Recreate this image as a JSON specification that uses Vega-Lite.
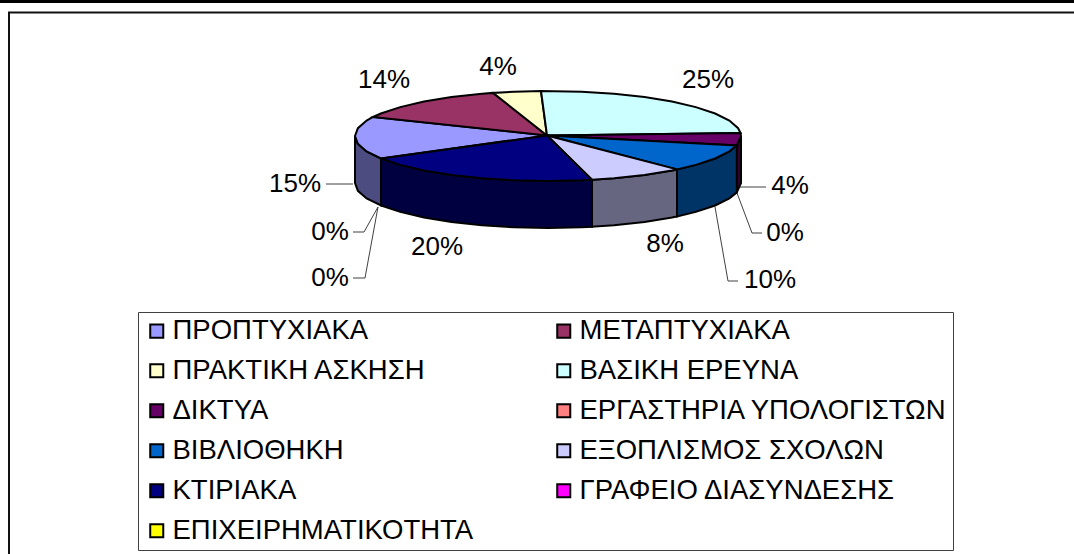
{
"$schema":"https://vega.github.io/schema/vega-lite/v6.json",
"width":1074,"height":554,"padding":0,"autosize":{"type":"none"},"background":"white",
"config":{"view":{"stroke":null},"font":"Liberation Sans"},
"projection":{"type":"identity","scale":1,"translate":[548,136]},
"resolve":{"scale":{"fill":"independent"},"legend":{"fill":"independent"}},
"layer":[
{"data":{"values":[{"name":"top rule","type":"Feature","geometry":{"type":"LineString","coordinates":[[-548,-134.5],[526,-134.5]]}}]},
 "mark":{"type":"geoshape","filled":false,"stroke":"#000000","strokeWidth":3},"encoding":{}},
{"data":{"values":[{"name":"chart frame","type":"Feature","geometry":{"type":"LineString","coordinates":[[-539,418],[-539,-123.5],[526,-123.5]]}}]},
 "mark":{"type":"geoshape","filled":false,"stroke":"#111111","strokeWidth":2},"encoding":{}},
{"data":{"values":[
 {"name":"ΔΙΚΤΥΑ","type":"Feature","geometry":{"type":"LineString","coordinates":[[192,51],[218,51]]}},
 {"name":"ΕΡΓΑΣΤΗΡΙΑ ΥΠΟΛΟΓΙΣΤΩΝ","type":"Feature","geometry":{"type":"LineString","coordinates":[[189,57],[204,97],[214,97]]}},
 {"name":"ΒΙΒΛΙΟΘΗΚΗ","type":"Feature","geometry":{"type":"LineString","coordinates":[[167,71],[180,145],[190,145]]}},
 {"name":"ΠΡΟΠΤΥΧΙΑΚΑ","type":"Feature","geometry":{"type":"LineString","coordinates":[[-222,48],[-195,48]]}},
 {"name":"ΓΡΑΦΕΙΟ ΔΙΑΣΥΝΔΕΣΗΣ","type":"Feature","geometry":{"type":"LineString","coordinates":[[-170,71],[-184,96],[-195,96]]}},
 {"name":"ΕΠΙΧΕΙΡΗΜΑΤΙΚΟΤΗΤΑ","type":"Feature","geometry":{"type":"LineString","coordinates":[[-170,71],[-183,142],[-195,142]]}}
]},
 "mark":{"type":"geoshape","filled":false,"stroke":"#404040","strokeWidth":1},"encoding":{}},
{"data":{"values":[
 {"name":"ΔΙΚΤΥΑ","type":"Feature","geometry":{"type":"Polygon","coordinates":[[[193,0],[188.8,9.4],[188.8,56.4],[193,47],[193,0]]]}},
 {"name":"ΒΙΒΛΙΟΘΗΚΗ","type":"Feature","geometry":{"type":"Polygon","coordinates":[[[188.8,9.4],[181.4,15.4],[167.1,22.5],[147.8,28.9],[129,33.4],[129,80.4],[147.8,75.9],[167.1,69.5],[181.4,62.4],[188.8,56.4],[188.8,9.4]]]}},
 {"name":"ΕΞΟΠΛΙΣΜΟΣ ΣΧΟΛΩΝ","type":"Feature","geometry":{"type":"Polygon","coordinates":[[[129,33.4],[124,34.5],[96.5,39],[66,42.3],[44,43.8],[44,90.8],[66,89.3],[96.5,86],[124,81.5],[129,80.4],[129,33.4]]]}},
 {"name":"ΚΤΙΡΙΑΚΑ","type":"Feature","geometry":{"type":"Polygon","coordinates":[[[44,43.8],[33.5,44.3],[0,45],[-33.5,44.3],[-66,42.3],[-96.5,39],[-124,34.5],[-147.8,28.9],[-167,22.5],[-167,69.5],[-147.8,75.9],[-124,81.5],[-96.5,86],[-66,89.3],[-33.5,91.3],[0,92],[33.5,91.3],[44,90.8],[44,43.8]]]}},
 {"name":"ΠΡΟΠΤΥΧΙΑΚΑ","type":"Feature","geometry":{"type":"Polygon","coordinates":[[[-167,22.5],[-181.4,15.4],[-190.1,7.8],[-193,0],[-193,47],[-190.1,54.8],[-181.4,62.4],[-167,69.5],[-167,22.5]]]}}
]},
 "mark":{"type":"geoshape","stroke":"#000000","strokeWidth":2,"opacity":1},
 "encoding":{"fill":{"field":"name","type":"nominal","legend":null,"scale":{"domain":["ΔΙΚΤΥΑ","ΒΙΒΛΙΟΘΗΚΗ","ΕΞΟΠΛΙΣΜΟΣ ΣΧΟΛΩΝ","ΚΤΙΡΙΑΚΑ","ΠΡΟΠΤΥΧΙΑΚΑ"],"range":["#330033","#003366","#666680","#000040","#4C4C80"]}}}},
{"data":{"values":[
 {"name":"ΠΡΟΠΤΥΧΙΑΚΑ","type":"Feature","geometry":{"type":"Polygon","coordinates":[[[-1,-0.5],[-167,22.5],[-181.4,15.4],[-190.1,7.8],[-193,0],[-190.1,-7.8],[-181.4,-15.4],[-175,-19],[-1,-0.5]]]}},
 {"name":"ΜΕΤΑΠΤΥΧΙΑΚΑ","type":"Feature","geometry":{"type":"Polygon","coordinates":[[[-1,-0.5],[-175,-19],[-167.1,-22.5],[-147.8,-28.9],[-124,-34.5],[-96.5,-39],[-66,-42.3],[-55,-43.1],[-1,-0.5]]]}},
 {"name":"ΠΡΑΚΤΙΚΗ ΑΣΚΗΣΗ","type":"Feature","geometry":{"type":"Polygon","coordinates":[[[-1,-0.5],[-55,-43.1],[-33.5,-44.3],[-7,-45],[-1,-0.5]]]}},
 {"name":"ΒΑΣΙΚΗ ΕΡΕΥΝΑ","type":"Feature","geometry":{"type":"Polygon","coordinates":[[[-1,-0.5],[-7,-45],[33.5,-44.3],[66,-42.3],[96.5,-39],[124,-34.5],[147.8,-28.9],[167.1,-22.5],[181.4,-15.4],[190.1,-7.8],[192.5,-3.1],[-1,-0.5]]]}},
 {"name":"ΔΙΚΤΥΑ","type":"Feature","geometry":{"type":"Polygon","coordinates":[[[-1,-0.5],[192.5,-3.1],[193,0],[188.8,9.4],[-1,-0.5]]]}},
 {"name":"ΒΙΒΛΙΟΘΗΚΗ","type":"Feature","geometry":{"type":"Polygon","coordinates":[[[-1,-0.5],[188.8,9.4],[181.4,15.4],[167.1,22.5],[147.8,28.9],[129,33.4],[-1,-0.5]]]}},
 {"name":"ΕΞΟΠΛΙΣΜΟΣ ΣΧΟΛΩΝ","type":"Feature","geometry":{"type":"Polygon","coordinates":[[[-1,-0.5],[129,33.4],[124,34.5],[96.5,39],[66,42.3],[44,43.8],[-1,-0.5]]]}},
 {"name":"ΚΤΙΡΙΑΚΑ","type":"Feature","geometry":{"type":"Polygon","coordinates":[[[-1,-0.5],[44,43.8],[33.5,44.3],[0,45],[-33.5,44.3],[-66,42.3],[-96.5,39],[-124,34.5],[-147.8,28.9],[-167,22.5],[-1,-0.5]]]}}
]},
 "mark":{"type":"geoshape","stroke":"#000000","strokeWidth":2,"opacity":1},
 "encoding":{"fill":{"field":"name","type":"nominal",
  "scale":{"domain":["ΠΡΟΠΤΥΧΙΑΚΑ","ΜΕΤΑΠΤΥΧΙΑΚΑ","ΠΡΑΚΤΙΚΗ ΑΣΚΗΣΗ","ΒΑΣΙΚΗ ΕΡΕΥΝΑ","ΔΙΚΤΥΑ","ΕΡΓΑΣΤΗΡΙΑ ΥΠΟΛΟΓΙΣΤΩΝ","ΒΙΒΛΙΟΘΗΚΗ","ΕΞΟΠΛΙΣΜΟΣ ΣΧΟΛΩΝ","ΚΤΙΡΙΑΚΑ","ΓΡΑΦΕΙΟ ΔΙΑΣΥΝΔΕΣΗΣ","ΕΠΙΧΕΙΡΗΜΑΤΙΚΟΤΗΤΑ"],
   "range":["#9999FF","#993366","#FFFFCC","#CCFFFF","#660066","#FF8080","#0066CC","#CCCCFF","#000080","#FF00FF","#FFFF00"]},
  "legend":{"title":null,"orient":"none","direction":"horizontal","legendX":138,"legendY":312,"columns":2,"symbolType":"square","symbolSize":170,"symbolStrokeColor":"#000000","symbolStrokeWidth":2,"symbolOpacity":1,"labelFont":"Liberation Sans","labelFontSize":27.5,"labelColor":"#000000","labelLimit":500,"labelOffset":2,"strokeColor":"#404040","fillColor":"#FFFFFF","padding":5,"rowPadding":11,"columnPadding":76,"symbolOffset":0}}}},
{"data":{"values":[
 {"name":"ΠΡΟΠΤΥΧΙΑΚΑ","pct":"15%","lon":-253,"lat":48},
 {"name":"ΜΕΤΑΠΤΥΧΙΑΚΑ","pct":"14%","lon":-164,"lat":-56},
 {"name":"ΠΡΑΚΤΙΚΗ ΑΣΚΗΣΗ","pct":"4%","lon":-50,"lat":-69},
 {"name":"ΒΑΣΙΚΗ ΕΡΕΥΝΑ","pct":"25%","lon":160,"lat":-56},
 {"name":"ΔΙΚΤΥΑ","pct":"4%","lon":242,"lat":50},
 {"name":"ΕΡΓΑΣΤΗΡΙΑ ΥΠΟΛΟΓΙΣΤΩΝ","pct":"0%","lon":237,"lat":97},
 {"name":"ΒΙΒΛΙΟΘΗΚΗ","pct":"10%","lon":222,"lat":144},
 {"name":"ΕΞΟΠΛΙΣΜΟΣ ΣΧΟΛΩΝ","pct":"8%","lon":117,"lat":108},
 {"name":"ΚΤΙΡΙΑΚΑ","pct":"20%","lon":-111,"lat":111},
 {"name":"ΓΡΑΦΕΙΟ ΔΙΑΣΥΝΔΕΣΗΣ","pct":"0%","lon":-218,"lat":96},
 {"name":"ΕΠΙΧΕΙΡΗΜΑΤΙΚΟΤΗΤΑ","pct":"0%","lon":-218,"lat":142}
]},
 "mark":{"type":"text","font":"Liberation Sans","fontSize":26,"color":"#000000","align":"center","baseline":"middle"},
 "encoding":{"longitude":{"field":"lon","type":"quantitative"},"latitude":{"field":"lat","type":"quantitative"},"text":{"field":"pct","type":"nominal"}}}
]
}
